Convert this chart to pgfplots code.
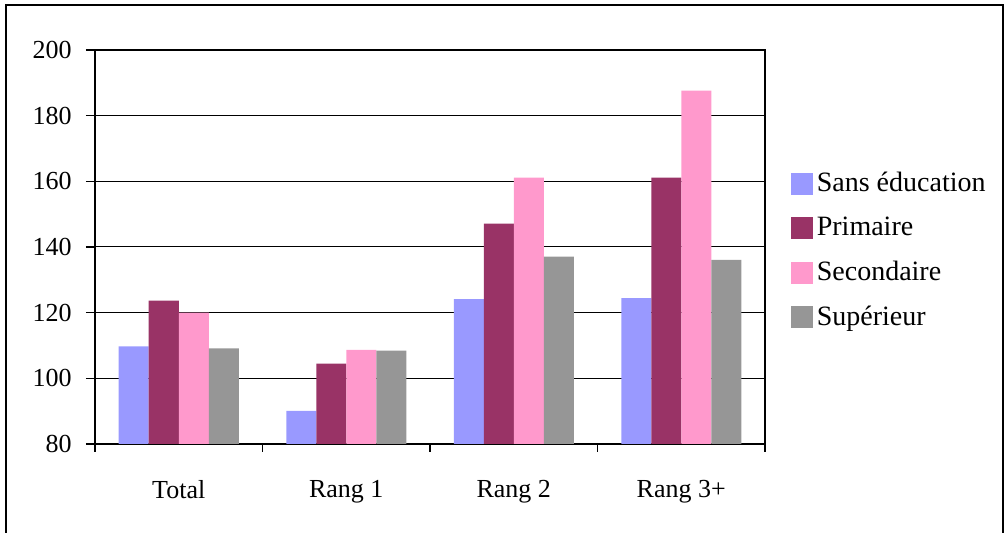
\documentclass[border=0pt]{standalone}
\usepackage{pgfplots}
\pgfplotsset{compat=1.18}
\usepackage{fontspec}
\setmainfont{Liberation Serif}

\definecolor{sansedu}{HTML}{9999FF}
\definecolor{primaire}{HTML}{993366}
\definecolor{secondaire}{HTML}{FF99CC}
\definecolor{superieur}{HTML}{969696}

\begin{document}
\fontsize{13}{15}\selectfont
\begin{tikzpicture}[x=1pt,y=1pt]
\useasboundingbox (-47.5,-44.5) rectangle (455,222);
% outer frame of the chart area
\draw[line width=1pt] (-44.5,-60) -- (-44.5,219.5) -- (454,219.5) -- (454,-60);
\begin{axis}[
  at={(0,0)}, anchor=south west,
  scale only axis, width=335pt, height=197pt,
  xmin=-0.5, xmax=3.5, ymin=80, ymax=200,
  ybar=0pt, bar width=15pt,
  xtick={0,1,2,3},
  xticklabels={Total, Rang 1, Rang 2, Rang 3+},
  minor xtick={-0.5,0.5,1.5,2.5,3.5},
  major x tick style={draw=none},
  ytick={80,100,...,200},
  tick align=outside,
  major tick length=4.5pt, minor tick length=4pt,
  tick style={black, line width=0.6pt},
  xtick pos=bottom, ytick pos=left,
  ymajorgrids, grid style={black, line width=0.5pt},
  axis line style={black, line width=0.9pt},
  xticklabel style={yshift=-9pt},
  yticklabel style={xshift=-2.7pt},
  /pgf/number format/assume math mode=true,
  legend style={at={(1.029,0.712)}, anchor=north west, draw=none, fill=none,
    row sep=6.8pt, font=\fontsize{14}{16}\selectfont},
  legend cell align=left,
  legend image code/.code={\path[#1] (0pt,-5.5pt) rectangle (11pt,5.5pt);},
]
\addplot[fill=sansedu, draw=none] coordinates {(0,109.7) (1,90.1) (2,124.1) (3,124.4)};
\addplot[fill=primaire, draw=none] coordinates {(0,123.7) (1,104.5) (2,147.1) (3,161.1)};
\addplot[fill=secondaire, draw=none] coordinates {(0,120.0) (1,108.7) (2,161.1) (3,187.6)};
\addplot[fill=superieur, draw=none] coordinates {(0,109.1) (1,108.4) (2,137.1) (3,136.1)};
\legend{Sans éducation, Primaire, Secondaire, Supérieur}
\end{axis}
\end{tikzpicture}
\end{document}
